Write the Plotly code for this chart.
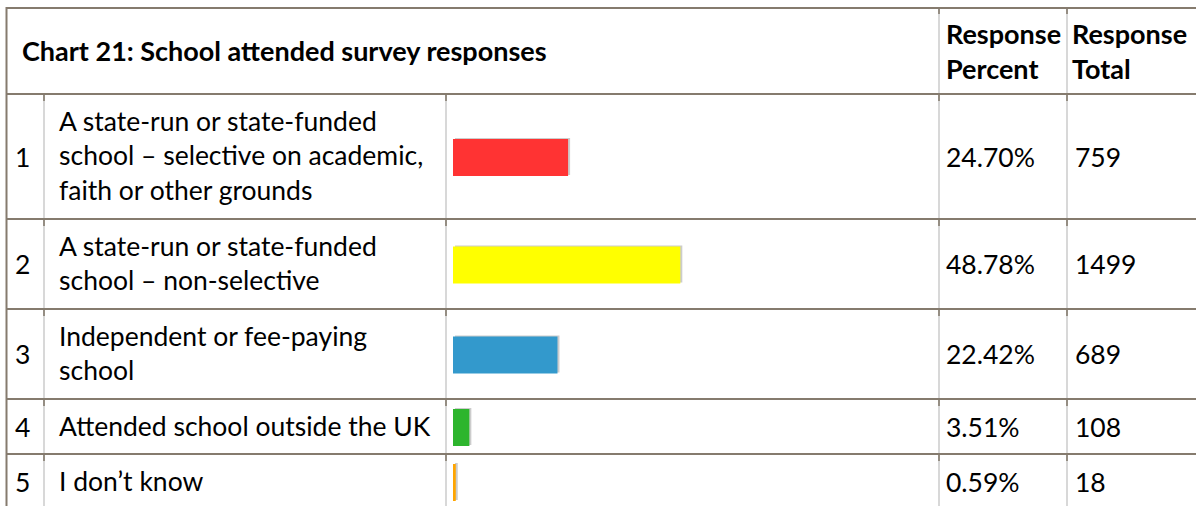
import plotly.graph_objects as go

# ---- survey data ----
row_numbers = ["1", "2", "3", "4", "5"]
labels = [
    "A state-run or state-funded<br>school \u2013 selective on academic,<br>faith or other grounds",
    "A state-run or state-funded<br>school \u2013 non-selective",
    "Independent or fee-paying<br>school",
    "Attended school outside the UK",
    "I don\u2019t know",
]
percents = [24.70, 48.78, 22.42, 3.51, 0.59]
percent_labels = ["24.70%", "48.78%", "22.42%", "3.51%", "0.59%"]
totals = [759, 1499, 689, 108, 18]
bar_colors = ["#ff3333", "#ffff00", "#3399cc", "#2db52d", "#ffa500"]

title = "Chart 21: School attended survey responses"
col_headers = ["Response<br>Percent", "Response<br>Total"]

# ---- page geometry (pixels) ----
W, H = 1196, 506
TOP = 8
HEADER_BOTTOM = 94
COL_X = [6.5, 44, 446, 939, 1067]          # cell borders
BAR_X0 = 453                               # where bars start
PX_PER_PCT = 4.66                          # bar length per percent
LINE_H = 35                                # text line pitch inside a cell
PAD_H = 20

BORDER = "#857b6e"
GRID = "#cfcfcf"
FONT = "Lato"
TXT = "#000000"
BODY_SIZE = 26.5
HEAD_SIZE = 27

# row boundaries from the number of text lines in each label
row_edges = [HEADER_BOTTOM]
for lab in labels:
    n_lines = lab.count("<br>") + 1
    row_edges.append(row_edges[-1] + PAD_H + LINE_H * n_lines)
row_centers = [(a + b) / 2 for a, b in zip(row_edges[:-1], row_edges[1:])]
bar_centers = [c + 1 for c in row_centers]


def px(x):
    return x / W


fig = go.Figure()

# soft grey edge behind each bar (top and right)
shadow_base = 2 / PX_PER_PCT
fig.add_trace(go.Bar(
    orientation="h",
    x=percents,
    y=[c - 1 for c in bar_centers],
    base=shadow_base,
    width=37,
    marker=dict(color="#cccccc", line=dict(width=0)),
    hoverinfo="skip",
    showlegend=False,
))
fig.add_trace(go.Bar(
    orientation="h",
    x=percents,
    y=bar_centers,
    width=37,
    marker=dict(color=bar_colors, line=dict(width=0)),
    hovertemplate="%{x:.2f}%<extra></extra>",
    showlegend=False,
))

shapes = []
# vertical grey cell dividers
for x in COL_X[1:3]:
    shapes.append(dict(type="line", xref="paper", yref="y", x0=px(x), x1=px(x),
                       y0=HEADER_BOTTOM, y1=H + 5, line=dict(color=GRID, width=1.6)))
for x in COL_X[3:]:
    shapes.append(dict(type="line", xref="paper", yref="y", x0=px(x), x1=px(x),
                       y0=TOP, y1=H + 5, line=dict(color=GRID, width=1.6)))
# horizontal row borders
for y in [TOP] + row_edges[:-1]:
    shapes.append(dict(type="line", xref="paper", yref="y", x0=px(COL_X[0]), x1=1.01,
                       y0=y, y1=y, line=dict(color=BORDER, width=2)))
# short border stubs where rows meet column dividers
for y in row_edges[:-1]:
    for x in COL_X[1:]:
        shapes.append(dict(type="line", xref="paper", yref="y", x0=px(x), x1=px(x),
                           y0=y, y1=y + 7, line=dict(color=BORDER, width=1.6)))
for x in COL_X[3:]:
    shapes.append(dict(type="line", xref="paper", yref="y", x0=px(x), x1=px(x),
                       y0=TOP, y1=TOP + 6, line=dict(color=BORDER, width=1.6)))
# outer left border
shapes.append(dict(type="line", xref="paper", yref="y", x0=px(COL_X[0]), x1=px(COL_X[0]),
                   y0=TOP - 1, y1=H + 5, line=dict(color=BORDER, width=2)))

annotations = []


def add_text(x, y, text, size, bold=False):
    annotations.append(dict(
        xref="paper", yref="y", x=px(x), y=y, text=f"<b>{text}</b>" if bold else text,
        xanchor="left", yanchor="middle", align="left", showarrow=False,
        font=dict(family=FONT, size=size, color=TXT),
    ))


add_text(20, 50, title, HEAD_SIZE, bold=True)
add_text(944, 51, col_headers[0], HEAD_SIZE, bold=True)
add_text(1070, 51, col_headers[1], HEAD_SIZE, bold=True)

for i in range(len(labels)):
    yc = row_centers[i]
    add_text(13, yc, row_numbers[i], BODY_SIZE)
    add_text(57, yc - 1, labels[i], BODY_SIZE)
    add_text(944, yc, percent_labels[i], BODY_SIZE)
    add_text(1073, yc, str(totals[i]), BODY_SIZE)

fig.update_layout(
    width=W, height=H,
    margin=dict(l=0, r=0, t=0, b=0),
    paper_bgcolor="white", plot_bgcolor="white",
    barmode="overlay",
    xaxis=dict(domain=[px(BAR_X0), px(BAR_X0 + 100 * PX_PER_PCT)], range=[0, 100],
               visible=False, fixedrange=True),
    yaxis=dict(domain=[0, 1], range=[H, 0], visible=False, fixedrange=True),
    shapes=shapes,
    annotations=annotations,
    showlegend=False,
)

fig.write_html("out.html")
